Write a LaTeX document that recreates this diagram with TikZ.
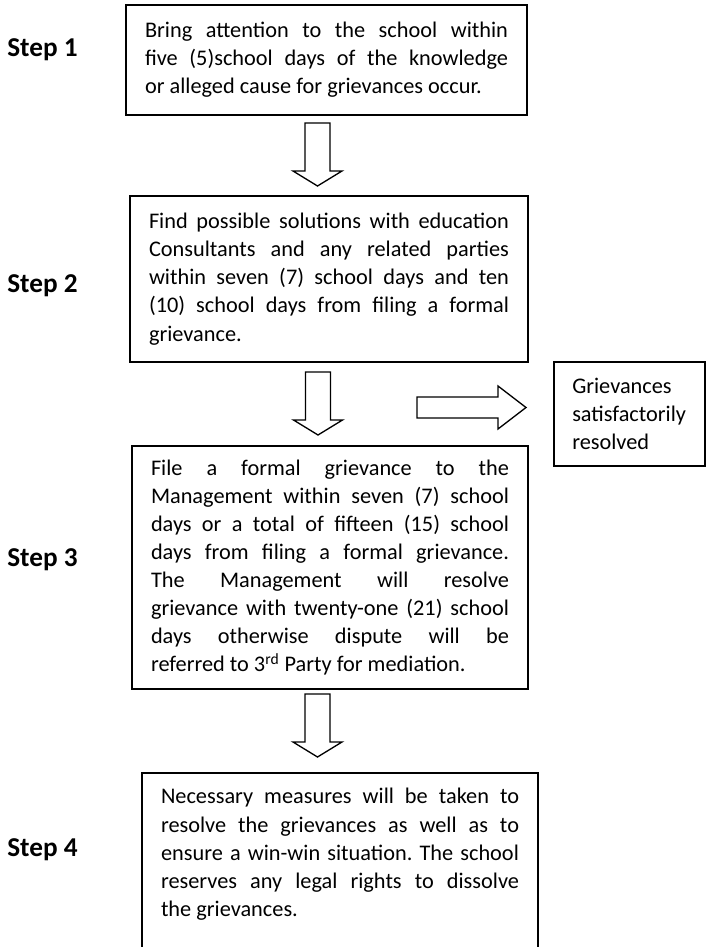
\documentclass[tikz,border=0pt]{standalone}
\usepackage{fontspec}
\setmainfont{Carlito}
\usetikzlibrary{positioning}
\frenchspacing

\begin{document}
\begin{tikzpicture}[
    stepbox/.style={draw=black, line width=1.1pt, align=justify, inner xsep=0.38cm, inner ysep=0pt, font=\fontsize{12.7}{16}\selectfont},
    steptext/.style={align=justify, inner sep=0pt, font=\fontsize{12.7}{16}\selectfont},
    steplabel/.style={anchor=west, inner sep=0pt, font=\bfseries\fontsize{15.5}{18}\selectfont},
    bigarrow/.style={draw=black, line width=0.75pt, fill=white, line join=miter},
    pics/downarrow/.style={code={
        \draw[bigarrow] (-0.25,0) -- (-0.25,-0.96) -- (-0.49,-0.96) -- (0,-1.26) -- (0.49,-0.96) -- (0.25,-0.96) -- (0.25,0) -- cycle;
    }},
    pics/rightarrow/.style={code={
        \draw[bigarrow] (0,0.21) -- (1.62,0.21) -- (1.62,0.43) -- (2.18,0) -- (1.62,-0.43) -- (1.62,-0.21) -- (0,-0.21) -- cycle;
    }}
]
\useasboundingbox (0,0) rectangle (14.12,-18.94);
\clip (0,0) rectangle (14.12,-18.94);

% Step labels
\node[steplabel] (s1) at (0.14,-1.00) {Step 1};
\node[steplabel] (s2) at (0.14,-5.72) {Step 2};
\node[steplabel] (s3) at (0.14,-11.20) {Step 3};
\node[steplabel] (s4) at (0.14,-17.00) {Step 4};

% Boxes
\node[stepbox, text width=7.26cm, minimum width=8.02cm, minimum height=2.2cm] (b1) at (6.53,-1.20)
    {Bring attention to the school within\linebreak five (5)school days of the knowledge\linebreak or alleged cause for grievances occur.};
\node[stepbox, text width=7.20cm, minimum width=7.96cm, minimum height=3.32cm] (b2) at (6.58,-5.58)
    {Find possible solutions with education\linebreak Consultants and any related parties\linebreak within seven (7) school days and ten\linebreak (10) school days from filing a formal\linebreak grievance.};
\node[stepbox, text width=7.16cm, minimum width=7.92cm, minimum height=4.86cm] (b3) at (6.60,-11.35)
    {File a formal grievance to the\linebreak Management within seven (7) school\linebreak days or a total of fifteen (15) school\linebreak days from filing a formal grievance.\linebreak The Management will resolve\linebreak grievance with twenty-one (21) school\linebreak days otherwise dispute will be\linebreak referred to 3\textsuperscript{rd} Party for mediation.};
\node[stepbox, minimum width=7.92cm, minimum height=3.74cm] (b4) at (6.80,-17.33) {};
\node[steptext, text width=7.16cm, anchor=north, below=0.32cm of b4.north] (t4)
    {Necessary measures will be taken to\linebreak resolve the grievances as well as to\linebreak ensure a win-win situation. The school\linebreak reserves any legal rights to dissolve\linebreak the grievances.};

% Side box
\node[stepbox, align=left, inner xsep=0.3cm, text width=2.3cm, minimum width=3.02cm, minimum height=2.08cm] (rb) at (12.595,-8.28)
    {Grievances\\ satisfactorily\\ resolved};

% Block arrows
\coordinate (a1) at (6.35,-2.46);
\coordinate (a2) at (6.36,-7.44);
\coordinate (a3) at (6.35,-13.88);
\coordinate (ar) at (8.34,-8.15);
\pic at (a1) {downarrow};
\pic at (a2) {downarrow};
\pic at (a3) {downarrow};
\pic at (ar) {rightarrow};

\end{tikzpicture}
\end{document}
